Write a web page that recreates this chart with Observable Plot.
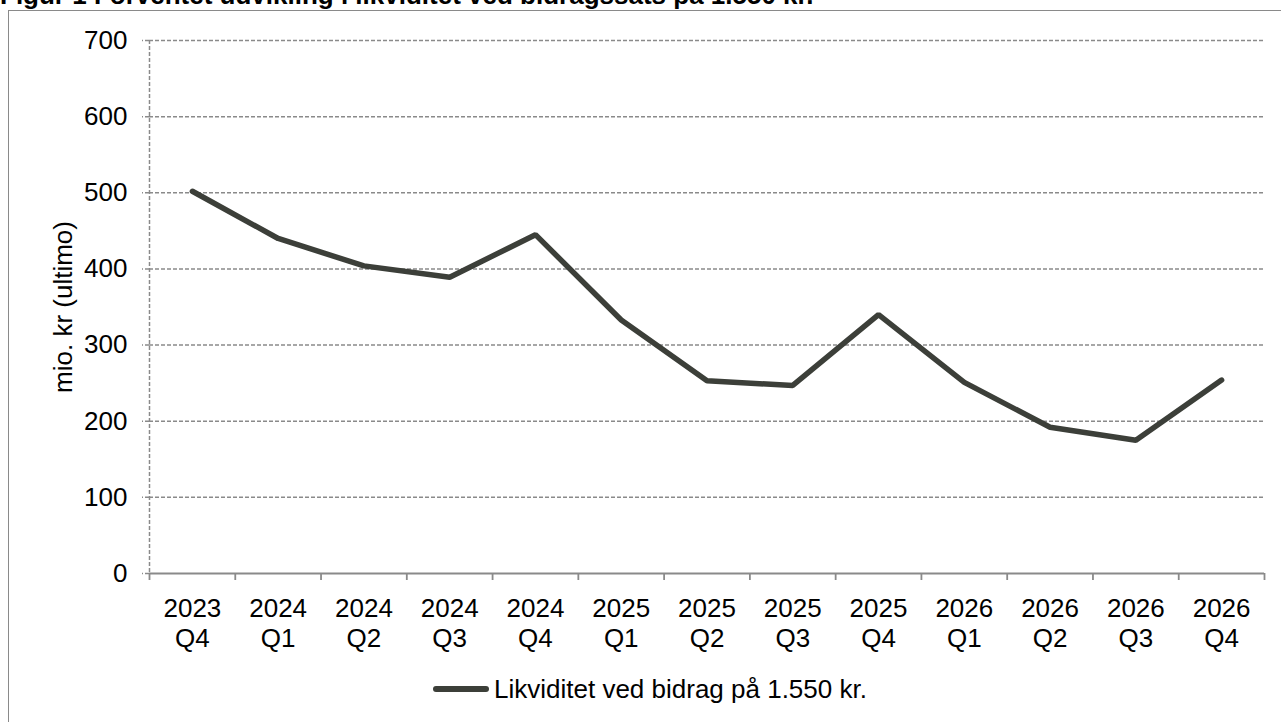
<!DOCTYPE html>
<html>
<head>
<meta charset="utf-8">
<script src="https://cdn.jsdelivr.net/npm/d3@7"></script>
<script src="https://cdn.jsdelivr.net/npm/@observablehq/plot@0.6"></script>
<style>
  html, body { margin: 0; padding: 0; background: #fff; }
  body { width: 1281px; height: 722px; overflow: hidden; position: relative;
         font-family: "Liberation Sans", Arial, sans-serif; color: #000; }
  #title { position: absolute; left: 0; top: -18px; font-size: 26px; line-height: 26px;
           font-weight: bold; white-space: nowrap; }
  #frame { position: absolute; left: 8px; top: 10px; width: 1300px; height: 740px;
           border: 1.5px solid #8a8a8a; box-sizing: border-box; }
  #chart { position: absolute; left: 0; top: 0; }
  #swatch { position: absolute; left: 433px; top: 686px; width: 56px; height: 6px;
            border-radius: 3px; background: #3c3f39; }
  #legendText { position: absolute; left: 494px; top: 676px; font-size: 26px; line-height: 26px;
                white-space: nowrap; }
</style>
</head>
<body>
<div id="title">Figur 1 Forventet udvikling i likviditet ved bidragssats på 1.550 kr.</div>
<div id="frame"></div>
<div id="chart"></div>
<div id="swatch"></div>
<div id="legendText">Likviditet ved bidrag på 1.550 kr.</div>
<script>
const quarters = ["2023\nQ4", "2024\nQ1", "2024\nQ2", "2024\nQ3", "2024\nQ4", "2025\nQ1", "2025\nQ2",
                  "2025\nQ3", "2025\nQ4", "2026\nQ1", "2026\nQ2", "2026\nQ3", "2026\nQ4"];
const likviditet = [502, 440, 404, 389, 445, 333, 253, 247, 340, 251, 192, 175, 254];
const yTicks = [0, 100, 200, 300, 400, 500, 600, 700];
const yLabel = "mio. kr (ultimo)";

const data = quarters.map((q, i) => ({i, q, v: likviditet[i]}));
const boundaries = d3.range(quarters.length + 1).map(k => k - 0.5);
const grid = "#8a8a8a";

const chart = Plot.plot({
  width: 1281,
  height: 722,
  marginLeft: 149,
  marginRight: 17,
  marginTop: 40,
  marginBottom: 149,
  x: {type: "linear", domain: [-0.5, quarters.length - 0.5]},
  y: {domain: [0, 700]},
  style: {fontFamily: "'Liberation Sans', Arial, sans-serif", fontSize: "26px", color: "#000", background: "transparent", overflow: "visible"},
  marks: [
    Plot.ruleY(yTicks.filter(d => d > 0), {stroke: grid, strokeWidth: 1.5, strokeDasharray: "4,2"}),
    Plot.ruleX([-0.5], {stroke: grid, strokeWidth: 1.5, strokeDasharray: "4,2"}),
    Plot.ruleY([0], {stroke: grid, strokeWidth: 1.8}),
    Plot.axisY({ticks: yTicks, tickSize: 7, tickPadding: 15, stroke: grid, strokeWidth: 1.5,
                strokeDasharray: "4,2", label: null, fontSize: 26, fill: "#000"}),
    Plot.axisX({ticks: boundaries, tickSize: 7, tickFormat: () => "", stroke: grid, strokeWidth: 1.8, label: null}),
    Plot.axisX({ticks: d3.range(quarters.length), tickSize: 0, tickPadding: 22,
                tickFormat: i => quarters[i], lineHeight: 1.15, label: null, fontSize: 26, fill: "#000"}),
    Plot.text([yLabel], {frameAnchor: "left", textAnchor: "middle", rotate: -90, dx: -86, fontSize: 26, fill: "#000"}),
    Plot.line(data, {x: "i", y: "v", stroke: "#3c3f39", strokeWidth: 5.5, strokeLinecap: "round", strokeLinejoin: "miter"})
  ]
});
document.getElementById("chart").appendChild(chart);
</script>
</body>
</html>
